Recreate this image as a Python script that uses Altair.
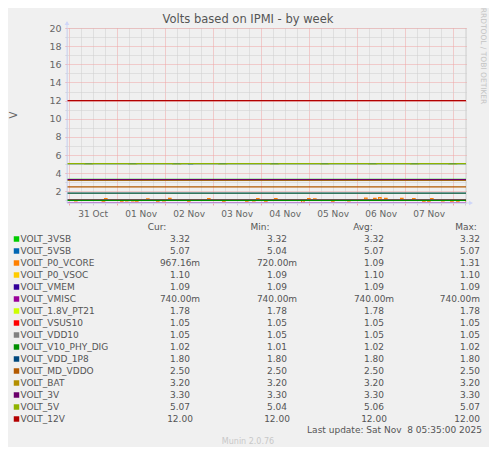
import altair as alt
import pandas as pd

FONT = "DejaVu Sans"

names = ["VOLT_3VSB", "VOLT_5VSB", "VOLT_P0_VCORE", "VOLT_P0_VSOC", "VOLT_VMEM",
         "VOLT_VMISC", "VOLT_1.8V_PT21", "VOLT_VSUS10", "VOLT_VDD10", "VOLT_V10_PHY_DIG",
         "VOLT_VDD_1P8", "VOLT_MD_VDDO", "VOLT_BAT", "VOLT_3V", "VOLT_5V", "VOLT_12V"]
colors = ["#00CC00", "#0066B3", "#FF8000", "#FFCC00", "#330099", "#990099", "#CCFF00",
          "#FF0000", "#808080", "#008F00", "#00487D", "#B35A00", "#B38F00", "#6B006B",
          "#8FB300", "#B30000"]
cur = [3.32, 5.07, 0.96716, 1.10, 1.09, 0.74, 1.78, 1.05, 1.05, 1.02, 1.80, 2.50, 3.20, 3.30, 5.07, 12.00]
mins = [3.32, 5.04, 0.72, 1.09, 1.09, 0.74, 1.78, 1.05, 1.05, 1.01, 1.80, 2.50, 3.20, 3.30, 5.04, 12.00]
avgs = [3.32, 5.07, 1.09, 1.10, 1.09, 0.74, 1.78, 1.05, 1.05, 1.02, 1.80, 2.50, 3.20, 3.30, 5.06, 12.00]
maxs = [3.32, 5.07, 1.31, 1.10, 1.09, 0.74, 1.78, 1.05, 1.05, 1.02, 1.80, 2.50, 3.20, 3.30, 5.07, 12.00]
# level each series holds for most of the week
base = [3.32, 5.07, 1.09, 1.10, 1.09, 0.74, 1.78, 1.05, 1.05, 1.02, 1.80, 2.50, 3.20, 3.30, 5.07, 12.00]

# short excursions: hours after 31 Oct 00:00 UTC and value
vcore_hours = [3, 16.8, 18, 26, 28.5, 31.5, 33.5, 39, 44, 47, 50, 59.5, 69.5, 77, 88.5, 92, 94,
               98, 103, 116.5, 119.5, 122.5, 131.5, 139.5, 148, 152.5, 155, 158, 166, 172, 177,
               179.5, 181, 186.5, 191, 194, 198.5]
vcore_vals = [0.95, 0.93, 1.20, 0.94, 0.96, 0.95, 0.93, 1.18, 0.94, 0.95, 1.22, 0.92, 1.20, 0.94,
              0.93, 0.95, 1.19, 0.94, 1.21, 0.72, 1.20, 1.18, 0.93, 0.95, 1.25, 1.22, 1.31, 1.24,
              1.22, 1.20, 0.94, 0.93, 1.19, 0.95, 0.94, 0.93, 0.96716]
v5_hours = [8, 30, 52, 75, 101, 126, 150, 171, 190]
v5_vals = [5.04, 5.04, 5.04, 5.04, 5.04, 5.04, 5.04, 5.04, 5.04]
v5vsb_hours = [60]
v5vsb_vals = [5.04]
phy_hours = [110]
phy_vals = [1.01]
vsoc_hours = [85]
vsoc_vals = [1.09]
excursions = {
    "VOLT_P0_VCORE": (vcore_hours, vcore_vals, 1.2),
    "VOLT_5V": (v5_hours, v5_vals, 4.0),
    "VOLT_5VSB": (v5vsb_hours, v5vsb_vals, 2.0),
    "VOLT_V10_PHY_DIG": (phy_hours, phy_vals, 2.0),
    "VOLT_P0_VSOC": (vsoc_hours, vsoc_vals, 2.0),
}

title_text = "Volts based on IPMI - by week"
y_title = "V"
headers = ["Cur:", "Min:", "Avg:", "Max:"]
last_update = "Last update: Sat Nov\u00a0\u00a08 05:35:00 2025"
munin_text = "Munin 2.0.76"
rrd_text = "RRDTOOL / TOBI OETIKER"

t0 = pd.Timestamp("2025-10-31 00:00", tz="UTC")
t_start = pd.Timestamp("2025-10-30 23:12", tz="UTC")
t_end = pd.Timestamp("2025-11-08 06:40", tz="UTC")


def ms(ts):
    return int(ts.value // 10**6)


def at(h):
    return ms(t0 + pd.Timedelta(hours=h))


rows = []
for name, b in zip(names, base):
    pts = [(ms(t_start), b)]
    if name in excursions:
        hs, vs, dur = excursions[name]
        for h, v in zip(hs, vs):
            pts.append((at(h), v))
            if at(h + dur) < ms(t_end):
                pts.append((at(h + dur), b))
    last_v = pts[-1][1]
    pts.append((ms(t_end), last_v))
    for t, v in pts:
        rows.append({"name": name, "t": t, "v": v})
df = pd.DataFrame(rows)


def fmt(v):
    return f"{v * 1000:.2f}m" if v < 1 else f"{v:.2f}"


leg = pd.DataFrame({
    "name": names,
    "cur": [fmt(v) for v in cur],
    "min": [fmt(v) for v in mins],
    "avg": [fmt(v) for v in avgs],
    "max": [fmt(v) for v in maxs],
})

W, H = 399, 175
MAJ, MIN_ = "#F0A4A4", "#CFCFCF"

xticks = [ms(t) for t in pd.date_range(t0, t_end, freq="6h")]
x_axis = alt.Axis(
    values=xticks,
    labelExpr="utchours(datum.value) == 12 ? utcFormat(datum.value, '%d %b') : ''",
    gridColor={"condition": {"test": "utchours(datum.value) == 0", "value": MAJ}, "value": MIN_},
    tickColor={"condition": {"test": "utchours(datum.value) == 0", "value": MAJ}, "value": MIN_},
    gridDash=[1, 1], tickSize=2, domain=False, labelColor="#666666", labelFont=FONT,
    labelFontSize=9, labelPadding=4, labelAngle=0, labelOverlap=False, labelFlush=False,
    title=None,
)
y_axis = alt.Axis(
    values=list(range(1, 21)),
    labelExpr="datum.value % 2 == 0 ? datum.label : ''",
    gridColor={"condition": {"test": "datum.value % 2 == 0", "value": MAJ}, "value": MIN_},
    tickColor={"condition": {"test": "datum.value % 2 == 0", "value": MAJ}, "value": MIN_},
    gridDash=[1, 1], tickSize=2, domain=False, labelColor="#666666", labelFont=FONT,
    labelFontSize=9.5, labelPadding=4, labelOverlap=False, labelFlush=False, title=None,
)
X = alt.X("t:T", scale=alt.Scale(type="utc", domain=[ms(t_start), ms(t_end)]), axis=x_axis)
Y = alt.Y("v:Q", scale=alt.Scale(domain=[0.72, 20], nice=False, zero=False), axis=y_axis)

line_layers = []
for name, col in zip(names, colors):
    line_layers.append(
        alt.Chart(df).transform_filter(alt.datum.name == name)
        .mark_line(interpolate="step-after", strokeWidth=1.25, clip=True, color=col)
        .encode(x=X, y=Y)
    )
lines = alt.layer(*line_layers)


def txt(text, x, y, size=9, color="#555555", align="center", angle=0):
    return alt.Chart(pd.DataFrame({"s": [text]})).mark_text(
        align=align, baseline="middle", fontSize=size, color=color, angle=angle, font=FONT
    ).encode(x=alt.value(x), y=alt.value(y), text="s:N")


one = pd.DataFrame({"a": [0]})
AX = "#CFD6F8"
yline = alt.Chart(one).mark_rule(color=AX, strokeWidth=1).encode(
    x=alt.value(0), y=alt.value(-6), y2=alt.value(H))
xline = alt.Chart(one).mark_rule(color=AX, strokeWidth=1).encode(
    x=alt.value(0), x2=alt.value(W + 5), y=alt.value(H))
up_arrow = alt.Chart(one).mark_point(shape="triangle-up", filled=True, size=22, color=AX, opacity=1).encode(
    x=alt.value(0), y=alt.value(-5))
right_arrow = alt.Chart(one).mark_point(shape="triangle-right", filled=True, size=22, color=AX, opacity=1).encode(
    x=alt.value(W + 5), y=alt.value(H))

LY = alt.Y("name:N", sort=names, scale=alt.Scale(type="point", range=[211, 391], padding=0), axis=None)
base_leg = alt.Chart(leg)
squares = base_leg.mark_square(size=30, opacity=1).encode(
    x=alt.value(-50.5), y=LY,
    color=alt.Color("name:N", scale=alt.Scale(domain=names, range=colors), legend=None))


def col_text(field, x, align):
    return base_leg.mark_text(align=align, baseline="middle", fontSize=9, color="#555555", font=FONT).encode(
        x=alt.value(x), y=LY, text=f"{field}:N")


name_txt = col_text("name", -46.5, "left")
cur_txt = col_text("cur", 113, "center")
min_txt = col_text("min", 210, "center")
avg_txt = col_text("avg", 307, "center")
max_txt = col_text("max", 413, "right")

annos = [
    txt(title_text, 181, -8, size=11.5, color="#555555"),
    txt(y_title, -53, 87, size=10, color="#666666", angle=270),
    txt(rrd_text, 416, 28, size=7.5, color="#C4C4C4", angle=90),
    txt(headers[0], 90, 199), txt(headers[1], 193, 199),
    txt(headers[2], 296, 199), txt(headers[3], 399, 199),
    txt(last_update, 415, 402, align="right"),
    txt(munin_text, 181, 414, size=8, color="#C8C8C8"),
]

chart = alt.layer(
    lines, yline, xline, up_arrow, right_arrow,
    squares, name_txt, cur_txt, min_txt, avg_txt, max_txt, *annos
).resolve_scale(y="independent").properties(
    width=W, height=H,
    autosize=alt.AutoSizeParams(type="none"),
    padding={"left": 59, "top": 20, "right": 23, "bottom": 244},
    background="#F0F0F0",
).configure_view(fill="white", stroke=None).configure(font=FONT)

chart.save("out.html", embed_options={"renderer": "svg", "actions": False})
